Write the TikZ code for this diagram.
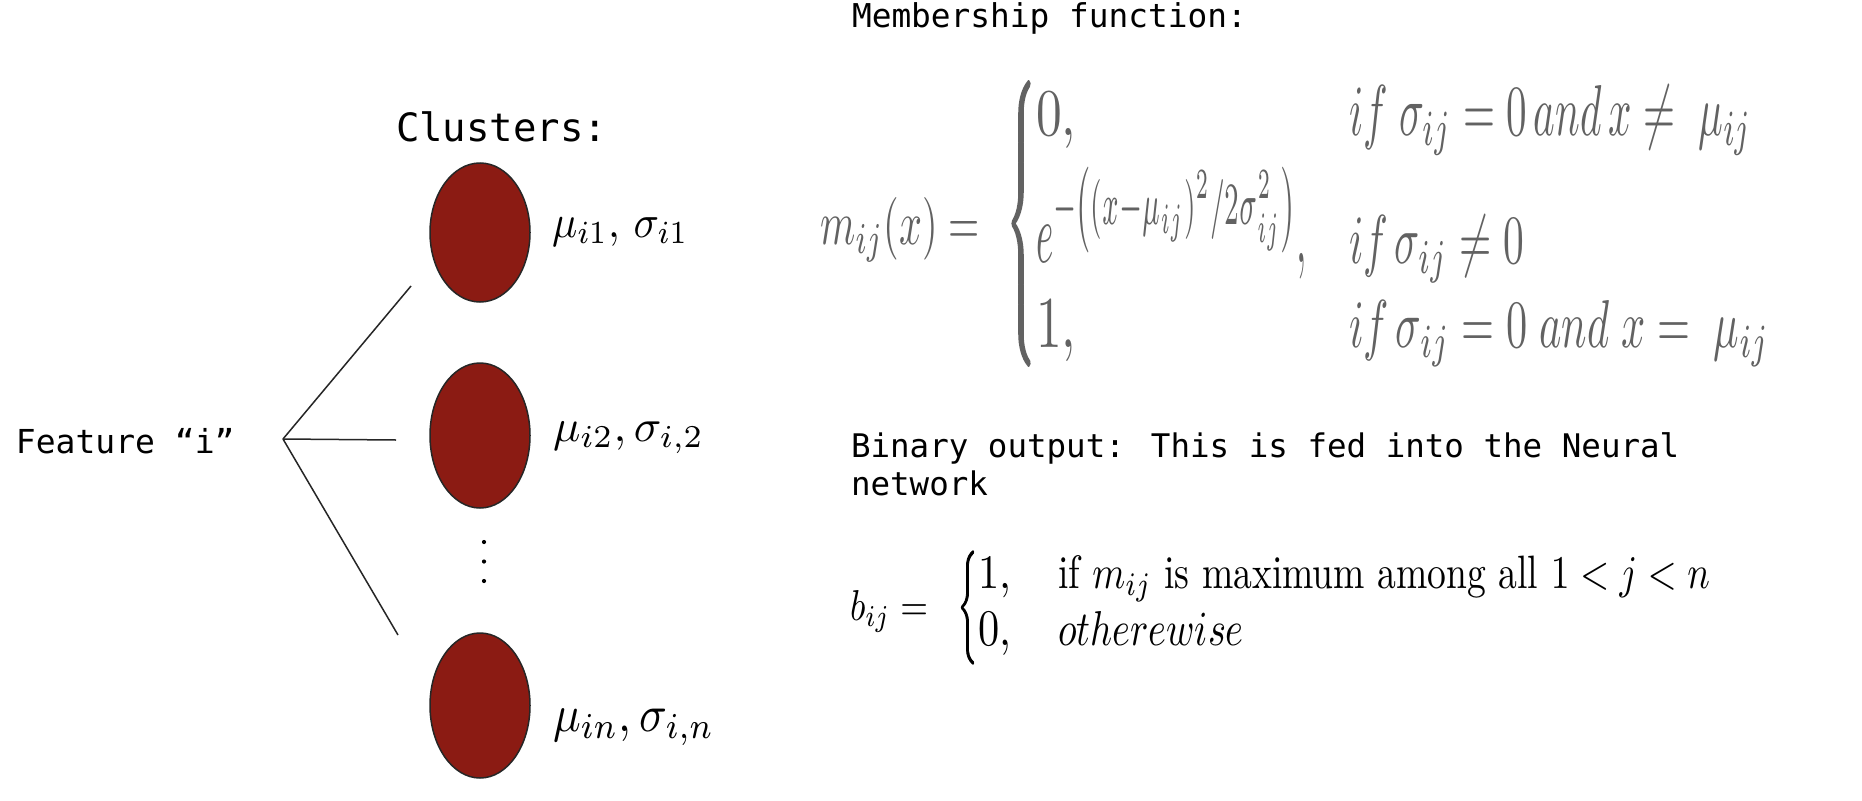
\documentclass[tikz,border=0pt]{standalone}
\usepackage{amsmath}
\usepackage{graphicx}
\usepackage{fontspec}
\newfontfamily\monofont{DejaVu Sans Mono}
\usetikzlibrary{shapes.geometric}
\definecolor{clusterred}{RGB}{139,27,19}
\definecolor{formulagray}{RGB}{98,98,98}
\newcommand\fitbox[3]{\resizebox{#1pt}{#2pt}{$#3$}}
\newcommand\bracebox[4]{\resizebox*{#1pt}{#2pt}{\delimiterfactor=1000 \delimitershortfall=0pt \nulldelimiterspace=0pt
  \special{pdf:code q 2 Tr #4 w}$\left\{\vrule height \dimexpr #3pt+2.5pt\relax depth \dimexpr #3pt-2.5pt\relax width 0pt\right.$\special{pdf:code Q}}}
\tikzset{
  cluster/.style={ellipse, draw=black!85, line width=1.5pt, fill=clusterred, minimum width=100pt, inner sep=0pt},
  link/.style={draw=black!85, line width=1.5pt},
  lbl/.style={anchor=base west, inner sep=0pt, outer sep=0pt},
  grey/.style={text=formulagray},
  bracenode/.style={anchor=north west, inner sep=0pt, outer sep=0pt},
  dotmark/.style={circle, fill=black, inner sep=0pt, minimum size=4.2pt},
}
\begin{document}
\begin{tikzpicture}[x=1pt,y=-1pt]
\path[use as bounding box, fill=white] (0,0) rectangle (1862,800);

% titles
\node[lbl] (clt) at (396,141) {\monofont\fontsize{39}{47}\selectfont Clusters:};
\node[lbl] (feat) at (16,453) {\monofont\fontsize{33}{40}\selectfont Feature “i”};
\node[lbl] (mft) at (852,28) {\monofont\fontsize{32.8}{38}\selectfont Membership function:};
\node[lbl] (bin1) at (851,457) {\monofont\fontsize{32.5}{38}\selectfont Binary output: This is fed into the Neural};
\node[lbl] (bin2) at (851,495) {\monofont\fontsize{32.5}{38}\selectfont network};

% clusters
\node[cluster, minimum height=139pt] (c1) at (480,232.5) {};
\node[cluster, minimum height=145pt] (c2) at (480,435.5) {};
\node[cluster, minimum height=145pt] (c3) at (480,705.5) {};

% labels
\node[lbl] (l1) at (552,237) {\scalebox{4.2}[4.6]{$\mu_{i1},\, \sigma_{i1}$}};
\node[lbl] (l2) at (553,441) {\scalebox{4.55}{$\mu_{i2},\sigma_{i,2}$}};
\node[lbl] (l3) at (553,731) {\scalebox{4.6}[5.2]{$\mu_{in},\sigma_{i,n}$}};

% vertical dots
\node[dotmark] (d1) at (484,542) {};
\node[dotmark] (d2) at (484,561.5) {};
\node[dotmark] (d3) at (484,581) {};

% connectors
\coordinate (J) at (283,439);
\coordinate (e1) at (411,286);
\coordinate (e2) at (396,440);
\coordinate (e3) at (398,635);
\draw[link] (J) -- (e1);
\draw[link] (J) -- (e2);
\draw[link] (J) -- (e3);

% membership formula
\node[lbl, grey] (mlhs) at (820,244) {\fitbox{160}{47}{m_{ij}(x) =}};
\node[bracenode, grey] (mbr) at (1007,82) {\bracebox{28}{283}{20}{0.55}};
\node[lbl, grey] (m1a) at (1036,135) {\fitbox{40}{43}{0,}};
\node[lbl, grey] (m1b) at (1349,135) {\fitbox{403}{50}{if\;\sigma_{ij}=0\,and\,x \neq\;\mu_{ij}}};
\node[lbl, grey] (m2a) at (1036,262) {\fitbox{271}{95}{e^{-\left(\left(x-\mu_{ij}\right)^2/2\sigma_{ij}^2\right)},}};
\node[lbl, grey] (m2b) at (1349,263) {\fitbox{175}{48}{if\,\sigma_{ij}\neq 0}};
\node[lbl, grey] (m3a) at (1036,347) {\fitbox{40}{47}{1,}};
\node[lbl, grey] (m3b) at (1349,347) {\fitbox{420}{47}{if\,\sigma_{ij} = 0\;and\;x = \;\mu_{ij}}};

% binary formula
\node[lbl] (blhs) at (850,620) {\fitbox{78}{30}{b_{ij} =}};
\node[bracenode] (bbr) at (958,551) {\bracebox{19}{113}{10}{0.3}};
\node[lbl] (b1a) at (978,588) {\fitbox{33}{31}{1,}};
\node[lbl] (b1b) at (1058,588) {\fitbox{652}{33}{\text{if } m_{ij} \text{ is maximum among all } 1<j<n}};
\node[lbl] (b2a) at (978,645) {\fitbox{33}{33}{0,}};
\node[lbl] (b2b) at (1058,645) {\fitbox{186}{34}{otherewise}};
\end{tikzpicture}
\end{document}
